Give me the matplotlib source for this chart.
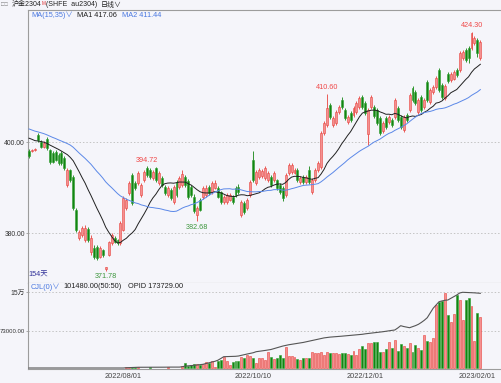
import matplotlib
matplotlib.use("Agg")
import matplotlib.pyplot as plt
import numpy as np
import pandas as pd

plt.rcParams["font.family"] = ["Liberation Sans", "Noto Sans CJK SC", "DejaVu Sans"]

# closes before the first visible bar, only used to seed the moving averages
warmup_close = [
    406.5, 407.2, 406.0, 405.6, 406.8, 407.5, 406.2, 405.4, 404.9, 405.8,
    404.5, 403.8, 404.2, 403.0, 402.6, 403.3, 401.9, 401.2, 402.0, 400.8,
    402.1, 402.9, 401.6, 400.8, 401.9, 402.4, 401.2, 400.5, 401.3, 400.2,
    401.0, 400.4, 399.6, 400.8,
]

opens = [
    398.1, 398.0, 398.4, 401.6, 400.1, 399.0, 400.7, 398.3, 397.6, 397.9,
    397.2, 397.6, 396.5, 390.6, 393.9, 392.4, 385.1, 379.0, 379.6, 378.5,
    381.0, 375.8, 376.8, 377.0, 374.8, 376.3, 372.2, 375.3, 377.9, 378.9,
    378.5, 377.9, 380.7, 385.6, 388.9, 392.8, 391.1, 391.1, 388.4, 391.7,
    394.3, 393.9, 392.2, 394.3, 391.1, 392.2, 390.2, 388.4, 389.5, 386.9,
    391.3, 390.2, 390.6, 392.4, 391.5, 390.2, 388.0, 384.0, 387.4, 388.0,
    388.4, 390.2, 389.1, 390.0, 390.0, 389.0, 386.9, 386.9, 387.3, 388.0,
    390.0, 390.2, 384.0, 386.7, 385.6, 388.4, 396.1, 391.1, 392.4, 392.6,
    392.2, 391.7, 392.4, 391.7, 391.7, 390.6, 390.0, 388.4, 393.3, 393.5,
    393.3, 393.9, 391.2, 392.4, 391.3, 393.9, 389.1, 391.7, 393.9, 394.6,
    402.0, 403.8, 408.2, 403.8, 404.2, 406.6, 409.3, 407.1, 404.4, 406.4,
    406.0, 406.6, 407.8, 410.0, 408.6, 401.8, 407.8, 407.8, 407.1, 405.3,
    402.5, 405.3, 404.4, 404.9, 405.6, 407.5, 405.6, 402.7, 406.0, 407.1,
    411.9, 411.0, 406.6, 410.0, 407.8, 413.3, 408.8, 411.0, 412.2, 415.9,
    412.6, 409.7, 415.0, 413.6, 414.0, 416.0, 415.9, 418.5, 420.3, 420.7,
    420.7, 421.8, 422.5, 418.5,
]

highs = [
    398.5, 398.6, 398.8, 402.0, 400.5, 400.2, 401.1, 398.6, 398.0, 398.3,
    397.6, 398.0, 396.9, 394.4, 394.2, 392.8, 385.5, 380.8, 381.6, 381.8,
    381.4, 379.6, 377.4, 377.4, 377.2, 376.6, 372.7, 378.4, 380.0, 379.3,
    378.8, 382.7, 388.2, 387.7, 391.6, 393.3, 391.5, 393.7, 391.0, 393.9,
    394.72, 394.3, 393.9, 394.6, 393.7, 392.6, 390.6, 390.4, 389.9, 390.6,
    391.7, 392.6, 393.9, 392.8, 391.9, 390.6, 388.6, 386.0, 387.8, 390.4,
    390.6, 390.6, 391.4, 391.8, 390.4, 389.4, 388.4, 388.8, 388.8, 388.4,
    390.4, 390.8, 387.3, 387.1, 387.7, 391.7, 398.2, 393.9, 394.3, 394.1,
    394.8, 393.7, 392.8, 393.7, 392.0, 391.0, 390.4, 393.2, 395.4, 395.5,
    394.4, 394.3, 392.6, 392.8, 392.8, 394.7, 392.1, 394.3, 395.8, 402.4,
    404.7, 410.6, 408.6, 405.7, 407.1, 408.1, 410.0, 407.5, 406.0, 406.8,
    407.9, 409.0, 410.1, 410.4, 409.0, 407.5, 410.5, 408.2, 407.5, 405.7,
    404.6, 405.7, 406.0, 405.3, 409.7, 407.9, 406.0, 406.0, 406.4, 410.8,
    412.3, 411.4, 409.7, 410.4, 409.7, 413.7, 411.9, 412.6, 414.6, 416.3,
    413.0, 412.8, 415.4, 415.4, 415.9, 416.4, 420.0, 420.3, 420.7, 421.1,
    424.3, 423.3, 422.9, 422.4,
]

lows = [
    396.6, 397.8, 398.2, 400.1, 398.8, 398.7, 398.4, 395.3, 395.4, 395.8,
    395.1, 395.0, 394.0, 390.2, 391.3, 385.2, 380.3, 378.6, 379.2, 378.1,
    378.2, 375.2, 374.4, 374.2, 374.5, 374.9, 371.78, 375.0, 377.5, 377.8,
    377.5, 377.5, 380.4, 385.2, 388.5, 386.3, 389.6, 390.7, 388.0, 391.3,
    392.4, 392.0, 391.8, 391.3, 390.6, 390.2, 388.5, 388.0, 387.4, 386.5,
    388.0, 389.8, 390.2, 390.2, 387.6, 388.0, 384.4, 382.68, 384.8, 387.6,
    388.0, 388.5, 388.7, 389.7, 387.7, 386.5, 386.5, 386.5, 387.0, 386.5,
    388.0, 388.7, 383.6, 384.3, 385.2, 388.0, 391.3, 390.6, 392.0, 392.2,
    391.8, 391.3, 390.2, 391.3, 389.6, 388.7, 387.2, 388.0, 392.9, 393.1,
    393.0, 391.3, 390.8, 390.9, 390.9, 390.9, 388.7, 391.3, 393.5, 394.2,
    401.6, 403.4, 405.2, 403.4, 403.8, 406.2, 407.4, 404.9, 404.0, 404.5,
    405.6, 406.2, 407.4, 407.4, 406.0, 399.4, 407.4, 405.4, 403.8, 401.6,
    402.1, 403.0, 404.0, 403.4, 405.2, 404.5, 403.0, 402.3, 404.5, 406.7,
    408.9, 408.2, 406.2, 406.7, 407.4, 408.9, 408.4, 410.6, 411.8, 411.1,
    409.5, 409.3, 413.1, 413.2, 413.6, 414.4, 415.5, 418.1, 417.7, 417.4,
    420.3, 421.4, 418.8, 418.2,
]

closes = [
    396.9, 398.4, 398.6, 400.4, 399.0, 399.9, 398.7, 395.7, 395.7, 396.1,
    395.5, 395.4, 394.3, 393.9, 391.7, 385.6, 380.7, 380.3, 381.2, 381.2,
    378.6, 379.0, 374.8, 374.6, 376.8, 375.2, 372.5, 378.0, 379.6, 378.1,
    377.8, 382.3, 387.8, 387.3, 391.1, 386.7, 390.0, 393.3, 390.6, 393.4,
    392.8, 392.4, 393.5, 391.7, 393.3, 390.6, 388.9, 390.0, 387.8, 390.2,
    388.4, 392.2, 393.0, 390.6, 388.0, 388.4, 384.8, 385.6, 385.2, 390.0,
    390.0, 388.9, 391.0, 391.0, 388.0, 386.9, 388.0, 388.4, 388.4, 386.9,
    388.4, 389.1, 386.9, 384.7, 387.3, 391.3, 391.7, 393.5, 393.9, 393.7,
    394.3, 393.3, 390.6, 393.3, 390.0, 389.1, 387.8, 392.8, 395.0, 395.0,
    393.9, 391.7, 392.2, 391.3, 392.4, 391.3, 391.7, 393.9, 395.4, 402.0,
    404.2, 407.5, 405.6, 405.3, 406.7, 407.7, 407.8, 405.3, 405.6, 404.9,
    407.5, 408.6, 409.7, 407.8, 406.4, 407.0, 410.0, 405.8, 404.2, 402.0,
    404.2, 403.4, 405.6, 403.8, 409.3, 404.9, 403.4, 405.6, 404.9, 410.4,
    409.3, 408.6, 409.3, 407.1, 409.3, 409.3, 411.5, 412.2, 414.2, 411.5,
    409.9, 412.4, 413.5, 415.0, 415.5, 414.8, 419.6, 419.9, 418.1, 418.5,
    424.0, 422.9, 419.6, 422.1,
]

volume = [
    0, 0, 0, 0, 0, 0, 0, 0, 0, 0,
    0, 0, 0, 0, 0, 0, 0, 0, 0, 0,
    0, 0, 0, 0, 0, 0, 0, 0, 0, 0,
    0, 0, 0, 1500, 1200, 1500, 1200, 1400, 0, 0,
    0, 1000, 0, 0, 0, 0, 0, 1000, 0, 0,
    0, 0, 3900, 9200, 3900, 5900, 7200, 7200, 5900, 7900,
    11200, 9200, 13800, 2600, 13800, 15800, 22400, 13800, 5900, 12500,
    13800, 13800, 22400, 19100, 25700, 23700, 19100, 9200, 19100, 19100,
    15800, 30900, 22400, 17800, 19100, 25700, 20400, 42100, 23700, 23700,
    22400, 17800, 15800, 19100, 20400, 20400, 30900, 29000, 29000, 30900,
    25700, 32200, 29000, 29000, 29000, 27000, 29000, 29000, 27000, 25000,
    34500, 26000, 38000, 43000, 37500, 49000, 49000, 52000, 51000, 32000,
    32000, 38000, 52000, 40000, 55000, 33500, 47000, 43000, 39000, 49000,
    32000, 45000, 40000, 35000, 65000, 53000, 51000, 58600, 124000, 131000,
    132000, 149000, 105000, 91000, 106000, 144000, 134000, 95000, 134000, 139000,
    123000, 53000, 108000, 101480,
]

open_interest = [
    0, 0, 0, 0, 0, 0, 0, 0, 0, 0,
    0, 0, 0, 0, 0, 0, 0, 0, 0, 0,
    0, 0, 0, 0, 0, 0, 0, 0, 0, 0,
    0, 0, 0, 600, 900, 1300, 1500, 1700, 1700, 1700,
    1700, 1900, 1900, 1900, 1900, 1900, 1900, 2100, 2100, 2100,
    2100, 2100, 3000, 4500, 5000, 5600, 6200, 7000, 7600, 8600,
    10500, 12000, 14000, 15500, 18000, 22000, 26300, 26500, 26600, 26800,
    27200, 27900, 29500, 31000, 32600, 34000, 35500, 37900, 38800, 39800,
    40800, 41900, 43000, 45000, 47000, 49000, 51000, 52500, 54000, 55100,
    56300, 57500, 58600, 59500, 61000, 62500, 64000, 65500, 67000, 68500,
    70000, 71000, 71800, 72300, 72800, 73300, 74000, 74600, 75200, 76000,
    76600, 77200, 77800, 78400, 79500, 80300, 81200, 82000, 82800, 83600,
    84400, 85500, 86500, 87500, 88400, 93000, 98400, 96500, 95000, 93700,
    96000, 98500, 101600, 106000, 111000, 117000, 128000, 138900, 146500, 154200,
    156000, 157500, 158200, 162000, 166000, 169800, 174500, 176100, 175800, 175500,
    175200, 174800, 174300, 173729,
]

date_labels = ["2022/08/01", "2022/10/10", "2022/12/01", "2023/02/01"]
date_index = [32, 76, 114, 152]
price_ticks = [380, 400]
vol_ticks = [73000, 150000]
vol_tick_labels = ["73000.00", "15万"]
high_marks = [40, 101, 150]
low_marks = [26, 57]
ma_header = ["MA1 417.06", "MA2 411.44"]

W, H = 501, 383
BG = "#f5f5fa"
UP_FACE, UP_EDGE = "#f49090", "#e8423c"
DN_FACE, DN_EDGE = "#128512", "#2f9f2f"
SPINE = "#9c9c9c"


def px(x, y):
    return x / W, 1 - y / H


o = np.array(opens)
h = np.array(highs)
lo = np.array(lows)
c = np.array(closes)
v = np.array(volume, dtype=float)
oi = np.array(open_interest, dtype=float)
idx = np.arange(len(c))
up = c >= o

all_close = pd.Series(warmup_close + closes)
ma1 = all_close.rolling(15).mean().to_numpy()[len(warmup_close):]
ma2 = all_close.rolling(35).mean().to_numpy()[len(warmup_close):]

fig = plt.figure(figsize=(W / 100, H / 100), dpi=100, facecolor=BG)
ax = fig.add_axes([28 / W, 1 - 283 / H, 473 / W, 273 / H], facecolor=BG)
axv = fig.add_axes([28 / W, 1 - 369 / H, 473 / W, 86 / H], facecolor=BG)

xlim = (-0.339, 160.0)

# candles
face = np.where(up, UP_FACE, DN_FACE)
edge = np.where(up, UP_EDGE, DN_EDGE)
ax.vlines(idx, lo, h, colors=np.where(up, UP_EDGE, DN_FACE), linewidth=0.6, zorder=2)
body_lo = np.minimum(o, c)
body_h = np.maximum(np.abs(c - o), 0.15)
ax.bar(idx, body_h, bottom=body_lo, width=0.66, color=face, edgecolor=edge,
       linewidth=0.4, zorder=3)

ax.plot(idx, ma1, color="#202020", linewidth=0.7, zorder=4)
ax.plot(idx, ma2, color="#5b88e8", linewidth=0.7, zorder=4)

for i in high_marks:
    ax.annotate(f"{highs[i]:.2f}", (i, highs[i]), xytext=(0, 4.4),
                textcoords="offset points", ha="center", va="center",
                fontsize=5.2, color="#f04848")
for i in low_marks:
    ax.annotate(f"{lows[i]:.2f}", (i, lows[i]), xytext=(0, -4.4),
                textcoords="offset points", ha="center", va="center",
                fontsize=5.2, color="#3c963c")

ax.set_xlim(*xlim)
ax.set_ylim(369.08, 429.08)
ax.set_yticks(price_ticks)
ax.set_yticklabels([f"{t:.2f}" for t in price_ticks])
ax.set_xticks([])
for t in price_ticks:
    ax.axhline(t, color="#c4c4c4", linewidth=0.7, linestyle=(0, (1.5, 2)), zorder=1)

# volume and open interest
vis = v > 0
axv.bar(idx[vis], v[vis], width=0.66, color=face[vis], edgecolor=edge[vis],
        linewidth=0.4, zorder=3)
axv.set_xlim(*xlim)
axv.set_ylim(-1974, 167790)
axv.set_yticks(vol_ticks)
axv.set_yticklabels(vol_tick_labels)
axv.set_xticks(date_index)
axv.set_xticklabels(date_labels)
for t in vol_ticks:
    axv.axhline(t, color="#c4c4c4", linewidth=0.7, linestyle=(0, (1.5, 2)), zorder=1)

axo = axv.twinx()
axo.plot(idx, oi, color="#555555", linewidth=0.8, zorder=4)
axo.set_ylim(-2326, 197710)
axo.set_xlim(*xlim)
axo.axis("off")

for a in (ax, axv):
    a.tick_params(axis="y", length=1.5, width=0.6, pad=0.8, labelsize=4.9,
                  colors=SPINE, labelcolor="#333333")
    a.spines["right"].set_visible(False)
    for s in ("left", "top", "bottom"):
        a.spines[s].set_color(SPINE)
        a.spines[s].set_linewidth(0.8)
axv.spines["top"].set_visible(False)
axv.tick_params(axis="x", length=0, pad=3, labelsize=5.3, labelcolor="#444444")
# the long volume label has to fit into the 28 px left margin
axv.get_yticklabels()[0].set_fontsize(4.3)

# header texts
fs = 5.3
fig.text(*px(1, 5), "□□", fontsize=4, color="#777777", va="center")
fig.text(*px(12, 5), "沪金2304", fontsize=5.0, color="#222222", va="center")
fig.text(*px(42, 3.5), "M", fontsize=3.3, color="#e03030", va="center")
fig.text(*px(46, 5), "(SHFE  au2304)", fontsize=5.0, color="#222222", va="center")
fig.text(*px(101, 5), "日线∨", fontsize=5.0, color="#222222", va="center")

fig.text(*px(31, 15.5), "MA(15,35)∨", fontsize=fs, color="#4a78e0", va="center")
fig.text(*px(77, 15.5), ma_header[0], fontsize=fs, color="#202020", va="center")
fig.text(*px(122, 15.5), ma_header[1], fontsize=fs, color="#4a78e0", va="center")

fig.text(*px(31, 287), "CJL(0)∨", fontsize=fs, color="#4a78e0", va="center")
fig.text(*px(63, 287), f"{volume[-1]:.2f}(50:50)", fontsize=fs, color="#202020", va="center")
fig.text(*px(128, 287), f"OPID {open_interest[-1]:.2f}", fontsize=fs, color="#202020", va="center")

fig.text(*px(28.5, 275), f"{len(closes)}天", fontsize=fs, color="#33339a", va="center")

fig.savefig("out.png", dpi=100, facecolor=BG)
